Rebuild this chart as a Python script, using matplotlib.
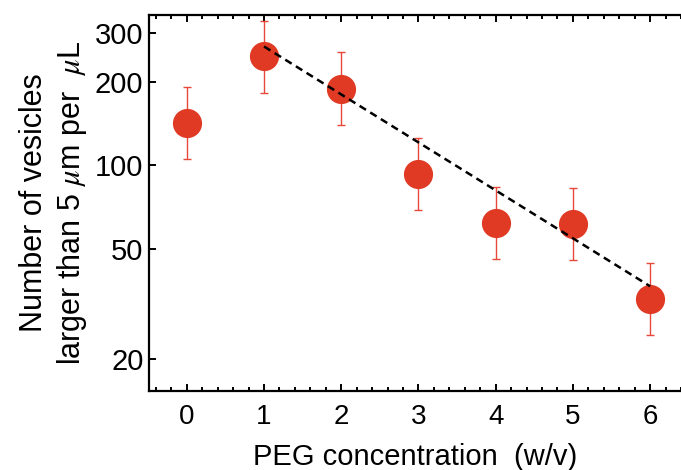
import matplotlib
matplotlib.use("Agg")
import matplotlib.pyplot as plt
from matplotlib.ticker import FixedLocator, MultipleLocator, NullLocator, FixedFormatter

plt.rcParams['font.family'] = ['Liberation Sans', 'DejaVu Sans']
plt.rcParams['mathtext.fontset'] = 'stix'

# Data
peg_conc = [0, 1, 2, 3, 4, 5, 6]
vesicles = [142, 247, 188, 93, 62, 61.5, 33]
err_upper = [191, 332, 255, 125, 83.5, 83, 44.4]
err_lower = [105.7, 183, 140, 69.3, 46, 45.6, 24.5]

fit_x = [1, 6]
fit_y = [268, 36.7]

y_ticks = [20, 50, 100, 200, 300]
y_ticklabels = ["20", "50", "100", "200", "300"]
x_ticks = [0, 1, 2, 3, 4, 5, 6]

fig = plt.figure(figsize=(6.81, 4.70), dpi=100)
ax = fig.add_axes([149/681, 1 - 391/470, 1 - 149/681, (391 - 15)/470])

yerr = [[v - lo for v, lo in zip(vesicles, err_lower)],
        [hi - v for v, hi in zip(vesicles, err_upper)]]

ax.errorbar(peg_conc, vesicles, yerr=yerr, fmt='none', ecolor='#e8483a',
            elinewidth=1.0, capsize=3, capthick=1.0, zorder=2)
ax.plot(peg_conc, vesicles, 'o', color='#e03a24', markersize=21,
        markeredgewidth=0, zorder=3)
ax.plot(fit_x, fit_y, color='black', lw=1.8, linestyle=(0, (3, 2)), zorder=4)

ax.set_yscale('log')
ax.set_ylim(15.4, 348)
ax.set_xlim(-0.49, 6.40)

ax.yaxis.set_major_locator(FixedLocator(y_ticks))
ax.yaxis.set_major_formatter(FixedFormatter(y_ticklabels))
ax.yaxis.set_minor_locator(NullLocator())
ax.xaxis.set_major_locator(FixedLocator(x_ticks))
ax.xaxis.set_minor_locator(MultipleLocator(0.2))

ax.tick_params(axis='x', which='both', direction='in', top=True, bottom=True,
               labelsize=20, pad=9.5, width=1.4)
ax.tick_params(axis='x', which='major', length=5)
ax.tick_params(axis='x', which='minor', length=3)
ax.tick_params(axis='y', which='major', direction='in', left=True, right=False,
               labelsize=21, pad=4, length=5, width=1.4)

for s in ['left', 'bottom', 'top']:
    ax.spines[s].set_linewidth(1.6)
ax.spines['right'].set_visible(False)

ax.set_xlabel('PEG concentration  (w/v)', fontsize=21, labelpad=9)
ax.set_ylabel('Number of vesicles\nlarger than 5 $\\mu$m per  $\\mu$L',
              fontsize=22, labelpad=4, linespacing=1.25)

fig.savefig('out.png', dpi=100)
